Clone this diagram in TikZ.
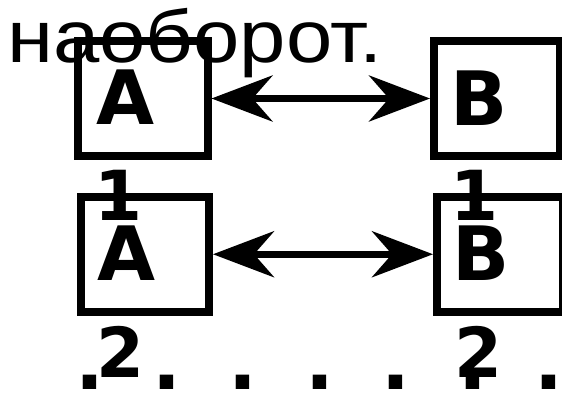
\documentclass[tikz,border=0pt]{standalone}
\usepackage{fontspec}
\usetikzlibrary{arrows.meta}
\newfontfamily\libsans{Liberation Sans}
\newfontfamily\djsans{DejaVu Sans}
\tikzset{
  boxnode/.style={draw=black, line width=8pt, inner sep=0pt, minimum height=115pt},
  letter/.style={inner sep=0pt, anchor=base west, font=\djsans\bfseries\fontsize{75}{80}\selectfont},
  digit/.style={inner sep=0pt, anchor=base west, font=\djsans\bfseries\fontsize{69}{75}\selectfont},
  dotnode/.style={inner sep=0pt, anchor=base, font=\djsans\bfseries\fontsize{76}{80}\selectfont},
  headtext/.style={inner sep=0pt, anchor=base west, xscale=1.125, transform shape, font=\libsans\fontsize{74}{80}\selectfont},
  dblarrow/.style={line width=7pt, {Stealth[length=61pt,width=46pt,inset=20pt]}-{Stealth[length=61pt,width=46pt,inset=20pt]}}
}
\begin{document}
\begin{tikzpicture}[x=1pt,y=-1pt]
\useasboundingbox[fill=white] (0,0) rectangle (562,395);
% heading text
\node[headtext] (head) at (7,63) {наоборот.};
% boxes
\node[boxnode, minimum width=130pt] (A1) at (142.5,98.5) {};
\node[boxnode, minimum width=126pt] (B1) at (497,98.5) {};
\node[boxnode, minimum width=128pt] (A2) at (145,254.25) {};
\node[boxnode, minimum width=125.5pt] (B2) at (499.75,254.25) {};
% labels
\node[letter] (A1l) at (96,125) {A};
\node[digit] (A1d) at (94,221) {1};
\node[letter] (B1l) at (450,126) {B};
\node[digit] (B1d) at (450,221) {1};
\node[letter] (A2l) at (97,280) {A};
\node[digit] (A2d) at (96,377) {2};
\node[letter] (B2l) at (452,280) {B};
\node[digit] (B2d) at (454,377) {2};
% arrows
\draw[dblarrow] (A1) -- (B1);
\draw[dblarrow] (A2) -- (B2);
% dots
\foreach \i/\x in {1/90,2/166.5,3/243,4/319.5,5/396,6/472.5,7/549}{
  \node[dotnode] (d\i) at (\x,389) {.};
}
\end{tikzpicture}
\end{document}
